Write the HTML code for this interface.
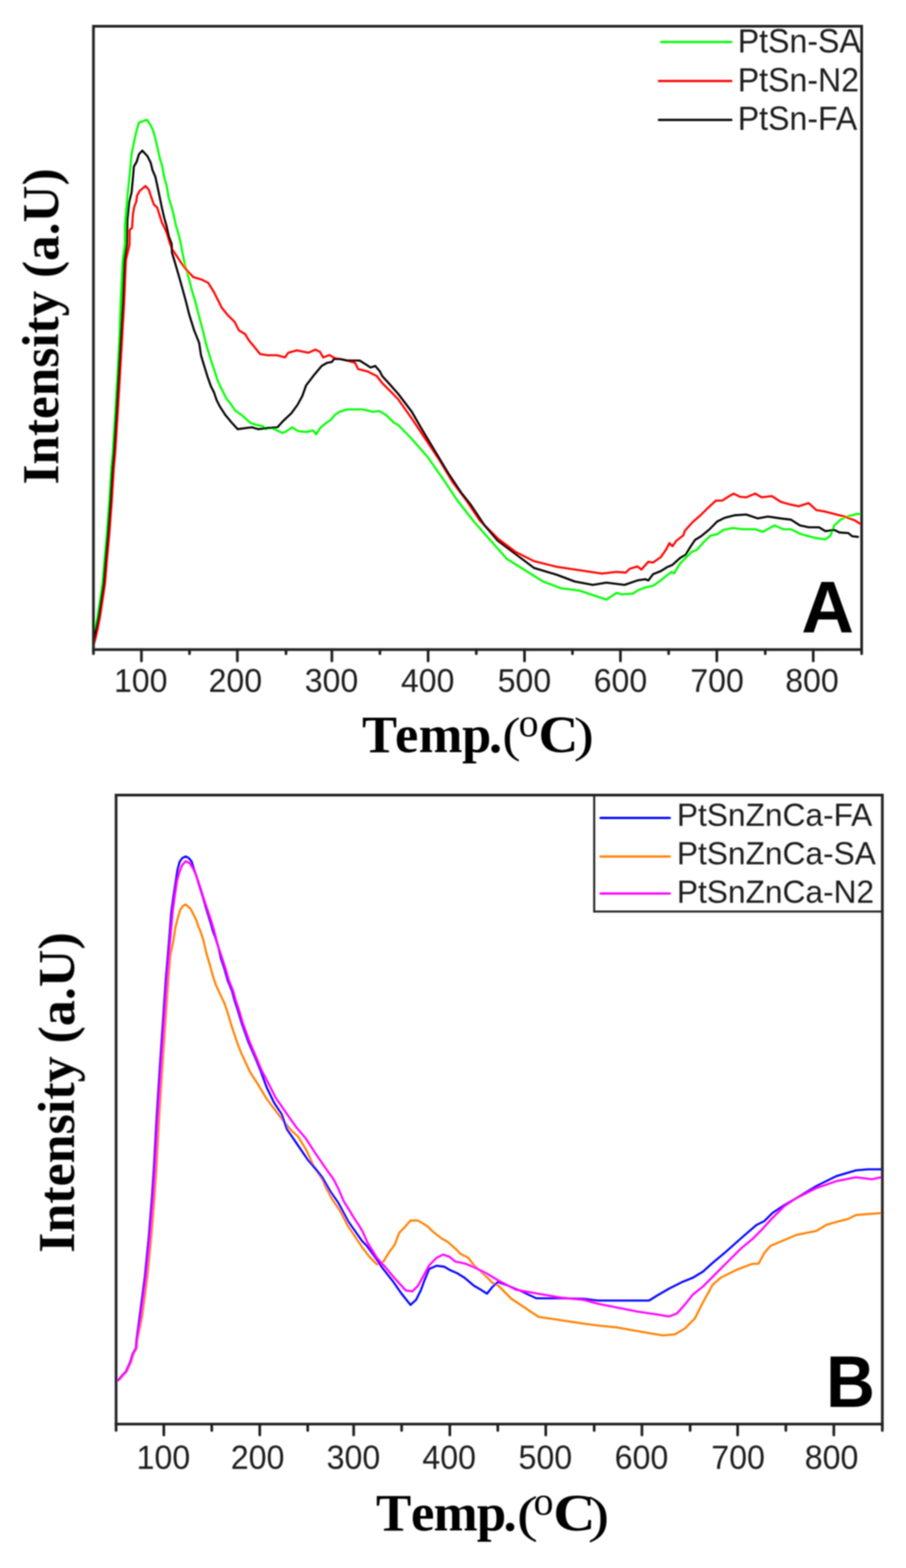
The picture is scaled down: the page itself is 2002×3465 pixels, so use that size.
<!DOCTYPE html>
<html><head><meta charset="utf-8"><title>TPR profiles</title>
<style>
html,body{margin:0;padding:0;background:#fff;}
body{width:2002px;height:3465px;overflow:hidden;}
svg{display:block;}
.tk{font-family:"Liberation Sans",Arial,sans-serif;font-size:70px;fill:#1c1c1c;text-anchor:middle;}
.lg{font-family:"Liberation Sans",Arial,sans-serif;font-size:69px;fill:#1c1c1c;}
.pl{font-family:"Liberation Sans",Arial,sans-serif;font-size:161px;font-weight:bold;fill:#000;}
.xl{font-family:"Liberation Serif","Times New Roman",serif;font-size:116px;font-weight:bold;fill:#000;}
.deg{font-weight:normal;font-size:88px;}
.yl{font-family:"Liberation Serif","Times New Roman",serif;font-size:114px;font-weight:bold;fill:#000;}
</style></head>
<body>
<svg width="2002" height="3465" viewBox="0 0 2002 3465">
<defs><filter id="soft" x="0" y="0" width="2002" height="3465" filterUnits="userSpaceOnUse"><feGaussianBlur stdDeviation="1.6"/></filter></defs>
<rect width="2002" height="3465" fill="#fff"/>
<g filter="url(#soft)">
<polyline points="205.5,1426.0 206.0,1409.0 210.0,1391.0 215.5,1363.0 221.0,1327.0 226.5,1290.0 231.0,1236.0 236.0,1181.0 241.5,1108.0 246.0,1035.0 249.2,1000.0 254.5,915.0 259.5,830.0 264.0,745.0 266.5,670.0 271.3,575.0 276.0,540.0 276.2,497.6 281.4,435.8 286.5,386.0 290.7,341.0 295.8,316.0 301.0,291.5 307.0,271.0 315.0,268.0 324.7,264.7 331.9,275.0 338.0,287.4 343.2,306.0 348.4,328.6 353.5,351.3 358.7,367.8 362.8,392.5 368.0,409.0 373.0,437.8 378.2,454.3 383.4,472.8 388.5,497.6 393.7,514.0 398.8,534.7 403.0,557.5 408.5,585.0 416.7,612.4 423.6,640.0 431.8,667.4 438.7,694.8 448.2,730.0 452.4,747.9 456.5,764.3 462.0,782.2 466.1,795.9 471.6,812.4 477.1,828.9 481.2,841.3 486.7,853.6 493.6,867.4 500.4,881.1 511.4,894.8 519.7,907.2 533.4,916.8 544.4,926.4 554.0,934.7 566.4,938.8 580.1,941.5 587.0,948.4 598.0,944.3 611.7,951.2 624.0,956.6 630.0,954.6 645.5,944.3 659.2,952.9 678.1,954.6 691.8,951.2 698.7,959.8 707.3,946.0 719.3,935.7 729.6,928.9 739.9,916.9 750.2,910.0 767.4,904.8 801.7,904.8 824.0,910.0 837.8,908.3 853.2,916.9 870.4,934.0 880.0,939.2 910.0,970.0 945.0,1010.0 980.0,1060.0 1010.0,1105.0 1045.0,1150.0 1080.0,1190.0 1120.0,1235.0 1160.0,1260.0 1200.0,1285.0 1240.0,1300.0 1280.0,1305.0 1310.0,1315.0 1340.0,1325.0 1362.3,1310.1 1374.3,1313.5 1398.4,1311.8 1408.7,1304.9 1425.9,1298.1 1443.0,1294.6 1460.2,1282.6 1470.5,1274.0 1484.2,1263.7 1489.4,1267.2 1503.1,1244.8 1515.1,1232.8 1528.9,1219.1 1539.2,1215.6 1552.9,1200.2 1563.2,1189.9 1570.4,1183.6 1584.5,1180.8 1598.6,1171.0 1618.3,1166.7 1640.8,1169.5 1669.0,1169.5 1685.9,1175.2 1711.2,1161.0 1731.0,1169.5 1747.8,1169.5 1767.5,1179.4 1781.6,1183.6 1804.0,1189.3 1823.9,1192.0 1835.0,1183.6 1843.6,1161.0 1857.6,1148.4 1871.7,1141.4 1894.0,1135.7 1902.0,1135.7" fill="none" stroke="#00ff00" stroke-width="4.6" stroke-linejoin="round" stroke-linecap="round"/>
<polyline points="208.0,1422.0 211.5,1409.0 215.5,1391.0 221.0,1363.0 226.5,1327.0 232.0,1290.0 236.5,1236.0 241.5,1181.0 247.0,1108.0 251.5,1035.0 254.7,1000.0 260.0,915.0 265.0,830.0 270.0,745.0 274.3,670.0 278.2,575.0 286.3,540.0 286.5,508.0 291.7,503.8 293.8,472.8 296.8,456.4 301.0,446.0 303.0,431.6 309.2,421.3 321.6,411.0 328.8,419.3 335.0,437.8 340.1,452.2 347.3,458.4 352.5,475.0 357.6,491.4 363.8,503.8 369.0,516.0 375.0,536.7 380.0,550.0 400.0,580.0 415.0,600.0 427.5,612.5 445.0,617.5 460.0,625.0 472.5,645.0 490.0,680.0 501.9,694.8 518.4,711.3 527.9,730.0 541.6,738.2 549.9,752.0 563.6,768.5 574.6,782.2 591.1,785.0 611.7,785.0 630.0,789.8 636.9,779.5 655.8,774.3 681.5,779.5 697.0,772.6 707.3,777.8 714.1,789.8 727.9,784.6 739.9,791.5 760.5,795.0 784.5,801.8 791.4,815.5 812.0,820.7 832.6,831.0 844.6,846.5 861.8,863.6 880.0,882.5 910.0,925.0 940.0,970.0 970.0,1015.0 1000.0,1065.0 1030.0,1105.0 1060.0,1150.0 1100.0,1190.0 1140.0,1220.0 1180.0,1240.0 1230.0,1252.5 1280.0,1260.0 1330.0,1267.5 1362.3,1263.7 1382.9,1265.4 1391.5,1256.9 1408.7,1251.7 1417.3,1258.6 1432.7,1241.4 1443.0,1243.1 1460.2,1231.1 1472.2,1213.9 1479.1,1200.2 1485.9,1207.1 1494.5,1195.0 1510.0,1183.0 1513.4,1172.7 1530.6,1153.8 1548.0,1138.6 1565.0,1121.7 1582.0,1106.2 1596.0,1106.2 1607.0,1099.0 1621.0,1090.7 1635.0,1097.7 1649.0,1099.0 1669.0,1090.7 1683.0,1099.0 1705.6,1096.3 1725.3,1109.0 1745.0,1114.6 1764.7,1118.8 1787.0,1111.8 1804.0,1127.3 1821.0,1130.0 1843.6,1135.7 1866.0,1141.4 1888.6,1149.8 1902.0,1158.3" fill="none" stroke="#ff0000" stroke-width="4.6" stroke-linejoin="round" stroke-linecap="round"/>
<polyline points="206.0,1430.0 208.5,1409.0 212.5,1391.0 218.0,1363.0 223.5,1327.0 229.0,1290.0 233.5,1236.0 238.5,1181.0 244.0,1108.0 248.5,1035.0 251.7,1000.0 257.0,915.0 262.0,830.0 267.0,745.0 271.3,670.0 275.2,575.0 280.6,540.0 281.4,487.0 285.5,446.0 290.7,425.5 293.8,392.5 295.8,368.0 302.0,357.5 307.0,341.0 314.4,332.7 325.7,345.0 333.0,359.5 337.0,376.0 343.2,390.4 347.3,409.0 352.5,433.7 357.6,458.4 362.8,481.0 368.0,499.6 373.0,522.3 379.3,538.8 380.0,558.0 388.0,585.0 396.0,612.4 403.7,640.0 411.2,667.4 418.0,694.8 429.0,730.0 440.0,757.5 444.1,785.0 452.4,812.4 459.2,834.4 466.1,853.6 473.0,867.4 478.5,883.8 485.3,897.6 497.7,916.8 511.4,933.3 525.2,948.4 544.4,945.7 556.8,944.3 570.5,948.4 591.1,945.7 613.1,944.3 625.4,930.5 643.7,913.4 657.5,894.5 667.8,875.6 676.4,851.6 693.5,829.3 710.7,808.7 722.7,801.8 733.0,800.1 738.2,793.2 750.2,793.2 767.4,796.7 794.8,796.7 806.9,804.4 818.9,812.1 829.2,808.7 839.5,820.7 844.6,831.0 861.8,849.9 880.0,870.5 910.0,910.0 930.0,945.0 960.0,995.0 990.0,1045.0 1020.0,1090.0 1040.0,1115.0 1070.0,1160.0 1100.0,1195.0 1140.0,1225.0 1180.0,1255.0 1230.0,1270.0 1270.0,1285.0 1310.0,1292.5 1340.0,1287.5 1380.0,1292.5 1408.7,1282.6 1425.9,1280.0 1432.7,1282.6 1443.0,1268.9 1460.2,1262.0 1473.9,1253.4 1485.9,1248.3 1503.1,1232.8 1515.1,1225.9 1525.4,1208.8 1535.7,1193.3 1549.5,1184.7 1568.0,1169.5 1584.5,1152.6 1601.4,1144.2 1624.0,1138.6 1649.0,1137.0 1674.6,1145.6 1697.0,1141.4 1725.3,1145.6 1747.8,1148.4 1767.5,1161.0 1787.2,1165.3 1809.8,1165.3 1823.9,1173.8 1843.6,1171.0 1854.8,1176.6 1874.5,1178.0 1883.0,1185.0 1896.0,1186.4" fill="none" stroke="#000000" stroke-width="4.6" stroke-linejoin="round" stroke-linecap="round"/>
<rect x="206.5" y="58" width="1697.5" height="1377.5" fill="none" stroke="#222" stroke-width="6"/>
<line x1="206.5" y1="1435.5" x2="206.5" y2="1444.5" stroke="#222" stroke-width="6" stroke-linecap="round"/>
<line x1="312.5" y1="1435.5" x2="312.5" y2="1460.5" stroke="#222" stroke-width="6" stroke-linecap="round"/>
<line x1="418.7" y1="1435.5" x2="418.7" y2="1444.5" stroke="#222" stroke-width="6" stroke-linecap="round"/>
<line x1="524.5" y1="1435.5" x2="524.5" y2="1460.5" stroke="#222" stroke-width="6" stroke-linecap="round"/>
<line x1="632.0" y1="1435.5" x2="632.0" y2="1444.5" stroke="#222" stroke-width="6" stroke-linecap="round"/>
<line x1="733.4" y1="1435.5" x2="733.4" y2="1460.5" stroke="#222" stroke-width="6" stroke-linecap="round"/>
<line x1="839.5" y1="1435.5" x2="839.5" y2="1444.5" stroke="#222" stroke-width="6" stroke-linecap="round"/>
<line x1="946.0" y1="1435.5" x2="946.0" y2="1460.5" stroke="#222" stroke-width="6" stroke-linecap="round"/>
<line x1="1052.5" y1="1435.5" x2="1052.5" y2="1444.5" stroke="#222" stroke-width="6" stroke-linecap="round"/>
<line x1="1159.0" y1="1435.5" x2="1159.0" y2="1460.5" stroke="#222" stroke-width="6" stroke-linecap="round"/>
<line x1="1265.0" y1="1435.5" x2="1265.0" y2="1444.5" stroke="#222" stroke-width="6" stroke-linecap="round"/>
<line x1="1371.0" y1="1435.5" x2="1371.0" y2="1460.5" stroke="#222" stroke-width="6" stroke-linecap="round"/>
<line x1="1477.5" y1="1435.5" x2="1477.5" y2="1444.5" stroke="#222" stroke-width="6" stroke-linecap="round"/>
<line x1="1584.0" y1="1435.5" x2="1584.0" y2="1460.5" stroke="#222" stroke-width="6" stroke-linecap="round"/>
<line x1="1691.0" y1="1435.5" x2="1691.0" y2="1444.5" stroke="#222" stroke-width="6" stroke-linecap="round"/>
<line x1="1797.0" y1="1435.5" x2="1797.0" y2="1460.5" stroke="#222" stroke-width="6" stroke-linecap="round"/>
<line x1="1904.0" y1="1435.5" x2="1904.0" y2="1444.5" stroke="#222" stroke-width="6" stroke-linecap="round"/>
<text transform="translate(311.0,1529) scale(0.97,1)" class="tk" style="font-size:73px">100</text>
<text transform="translate(520.0,1529) scale(0.97,1)" class="tk" style="font-size:73px">200</text>
<text transform="translate(732.5,1529) scale(0.97,1)" class="tk" style="font-size:73px">300</text>
<text transform="translate(945.0,1529) scale(0.97,1)" class="tk" style="font-size:73px">400</text>
<text transform="translate(1158.8,1529) scale(0.97,1)" class="tk" style="font-size:73px">500</text>
<text transform="translate(1371.0,1529) scale(0.97,1)" class="tk" style="font-size:73px">600</text>
<text transform="translate(1584.5,1529) scale(0.97,1)" class="tk" style="font-size:73px">700</text>
<text transform="translate(1794.3,1529) scale(0.97,1)" class="tk" style="font-size:73px">800</text>
<line x1="1461" y1="92.7" x2="1616" y2="92.7" stroke="#00ff00" stroke-width="5" stroke-linecap="round"/>
<text transform="translate(1630.3,115.8) scale(0.945,1)" class="lg" style="font-size:75px">PtSn-SA</text>
<line x1="1456" y1="178.9" x2="1616" y2="178.9" stroke="#ff0000" stroke-width="5" stroke-linecap="round"/>
<text transform="translate(1630.3,201.8) scale(0.945,1)" class="lg" style="font-size:75px">PtSn-N2</text>
<line x1="1456" y1="265" x2="1616" y2="265" stroke="#000000" stroke-width="5" stroke-linecap="round"/>
<text transform="translate(1630.3,286.8) scale(0.945,1)" class="lg" style="font-size:75px">PtSn-FA</text>
<text transform="translate(1770.8,1397)" class="pl">A</text>
<text x="800" y="1662" class="xl">T<tspan dx="6">e</tspan><tspan dx="1">m</tspan><tspan dx="-1">p</tspan><tspan dx="-5">.</tspan></text>
<text transform="translate(1109.9,1660.3) scale(1.04,0.937)" class="xl" style="font-weight:normal">(</text>
<text transform="translate(1146.1,1626.7)" class="xl deg">o</text>
<text transform="translate(1189.7,1662.2) scale(1.054,1.01)" class="xl">C</text>
<text transform="translate(1267.7,1660.3) scale(1.16,0.937)" class="xl" style="font-weight:normal">)</text>
<text transform="translate(128.5,1070.7) rotate(-90)" class="yl" style="font-size:113.3px">Intensity (a.U)</text>
<polyline points="258.5,3051.0 263.8,3049.0 272.1,3039.2 279.7,3031.6 284.2,3021.8 290.2,3008.3 294.7,2992.4 302.3,2978.9 303.4,2961.7 314.1,2909.0 325.5,2822.0 334.2,2734.7 341.2,2647.0 345.7,2580.0 351.5,2472.0 358.0,2369.0 365.0,2266.0 372.0,2163.0 376.5,2110.0 382.9,2080.0 387.3,2051.3 392.7,2029.3 398.2,2010.7 404.0,2002.0 410.3,1998.6 421.3,2008.5 427.9,2021.6 433.4,2032.6 437.8,2045.8 443.3,2059.0 448.8,2075.5 456.5,2108.0 464.7,2135.5 470.2,2156.2 477.1,2176.8 486.7,2197.4 496.3,2218.0 503.2,2238.6 511.4,2266.0 518.3,2286.6 525.2,2307.3 533.4,2327.9 543.0,2348.5 552.6,2369.0 559.5,2380.0 568.0,2393.0 587.8,2426.0 601.0,2444.0 622.4,2472.0 642.2,2496.8 658.7,2511.6 676.8,2541.3 693.3,2577.6 713.0,2607.2 720.0,2624.0 735.4,2652.3 751.9,2676.4 768.3,2708.3 784.8,2733.1 801.3,2757.8 816.5,2777.5 833.0,2794.0 847.4,2787.8 859.8,2767.1 872.1,2750.7 882.4,2723.9 892.7,2713.6 907.1,2697.1 923.6,2697.1 944.2,2709.5 956.6,2721.8 975.1,2736.2 989.6,2744.5 1006.0,2758.9 1018.4,2771.3 1034.9,2779.5 1047.3,2796.0 1067.9,2814.5 1088.5,2835.2 1100.0,2840.0 1130.0,2870.0 1160.0,2890.0 1190.0,2910.0 1240.0,2917.5 1290.0,2925.0 1320.0,2929.0 1364.0,2933.4 1425.5,2944.4 1465.0,2951.0 1491.4,2948.8 1513.4,2935.6 1535.4,2913.6 1553.0,2878.5 1575.0,2838.9 1592.5,2823.5 1627.7,2806.0 1662.9,2792.7 1676.0,2792.7 1689.2,2768.6 1702.4,2753.2 1728.8,2742.2 1759.6,2729.0 1803.5,2720.2 1825.5,2707.0 1847.5,2700.4 1873.8,2693.8 1891.4,2685.0 1917.8,2682.9 1947.0,2680.7" fill="none" stroke="#ff8000" stroke-width="4.6" stroke-linejoin="round" stroke-linecap="round"/>
<polyline points="257.5,3052.0 261.8,3049.0 270.1,3039.2 277.7,3031.6 282.2,3021.8 288.2,3008.3 292.7,2992.4 300.3,2978.9 301.4,2961.7 308.6,2909.0 320.0,2822.0 328.7,2734.7 335.7,2647.0 340.2,2580.0 346.0,2472.0 352.5,2369.0 359.5,2266.0 366.5,2163.0 371.0,2110.0 374.9,2062.0 378.5,2016.0 383.4,1980.0 388.4,1947.0 392.2,1922.7 397.1,1904.0 403.0,1896.0 410.3,1892.5 417.0,1896.0 423.5,1904.0 429.0,1921.6 433.4,1933.7 437.8,1949.0 443.3,1966.7 448.8,1984.3 454.3,2004.0 459.8,2021.6 465.3,2039.2 470.5,2058.0 476.3,2073.3 483.0,2095.0 488.1,2117.7 496.3,2142.4 503.2,2167.1 512.8,2190.5 518.3,2211.1 525.2,2231.7 533.4,2259.2 541.6,2282.5 548.5,2301.8 556.8,2321.0 566.4,2343.0 574.6,2363.3 589.4,2402.9 606.0,2437.5 622.4,2462.2 634.0,2495.2 658.7,2531.4 680.1,2562.7 691.6,2576.0 711.4,2600.6 729.5,2632.0 747.7,2658.3 770.0,2700.0 800.0,2742.4 810.3,2752.7 826.8,2775.4 845.3,2802.2 868.0,2831.0 886.5,2857.8 907.1,2883.6 919.5,2872.3 929.8,2851.6 938.0,2829.0 948.4,2804.2 964.8,2797.0 981.3,2799.1 993.7,2806.3 1010.2,2813.5 1026.7,2823.8 1047.3,2841.3 1061.7,2849.6 1076.1,2858.8 1088.5,2843.4 1100.0,2833.1 1120.0,2840.0 1150.0,2852.5 1185.0,2869.0 1240.0,2869.0 1290.0,2870.0 1320.0,2874.0 1434.3,2874.0 1451.9,2863.0 1478.2,2847.7 1509.0,2832.3 1531.0,2823.5 1553.0,2810.3 1575.0,2790.5 1601.3,2768.6 1640.9,2733.4 1671.6,2707.0 1689.2,2698.2 1706.8,2680.7 1733.2,2663.0 1759.6,2647.7 1803.5,2621.3 1847.5,2599.3 1891.4,2586.2 1917.8,2584.0 1947.0,2584.0" fill="none" stroke="#0000ff" stroke-width="4.6" stroke-linejoin="round" stroke-linecap="round"/>
<polyline points="258.5,3051.0 262.8,3049.0 271.1,3039.2 278.7,3031.6 283.2,3021.8 289.2,3008.3 293.7,2992.4 301.3,2978.9 302.4,2961.7 311.1,2909.0 322.5,2822.0 331.2,2734.7 338.2,2647.0 342.7,2580.0 348.5,2472.0 355.0,2369.0 362.0,2266.0 369.0,2163.0 373.5,2110.0 377.4,2062.0 381.8,2012.9 386.2,1980.0 391.1,1947.0 397.1,1925.0 402.6,1911.8 410.3,1903.0 419.1,1907.4 426.8,1919.5 432.3,1931.5 437.8,1947.0 443.3,1963.4 449.0,1982.0 455.0,2000.0 461.0,2018.0 467.0,2036.0 473.0,2056.0 481.0,2087.5 491.0,2117.7 499.0,2142.4 506.0,2167.1 515.5,2190.5 521.0,2211.1 528.0,2231.7 536.0,2259.2 544.5,2282.5 551.5,2301.8 559.5,2321.0 569.0,2343.0 577.9,2365.0 594.4,2396.3 609.2,2426.0 620.8,2442.4 638.9,2468.8 655.4,2491.9 675.2,2515.0 696.6,2548.0 718.0,2579.2 737.8,2607.2 747.7,2627.0 760.1,2655.6 771.6,2673.7 781.5,2690.2 791.4,2705.0 801.3,2721.5 812.4,2746.5 833.0,2779.5 851.5,2800.1 872.1,2824.8 896.8,2851.6 911.3,2853.7 923.6,2841.3 933.9,2822.8 948.4,2796.0 964.8,2779.5 979.3,2772.3 993.7,2777.5 1006.0,2787.8 1026.7,2791.9 1047.3,2800.1 1076.1,2814.5 1100.0,2829.0 1140.0,2850.0 1190.0,2859.0 1240.0,2867.5 1290.0,2872.5 1320.0,2880.7 1364.0,2889.5 1408.0,2898.2 1451.9,2904.8 1478.2,2909.2 1495.8,2902.6 1513.4,2882.9 1531.0,2860.9 1553.0,2843.3 1579.3,2817.0 1605.7,2790.5 1636.5,2759.8 1662.9,2737.8 1684.8,2715.8 1706.8,2691.6 1733.2,2665.3 1759.6,2647.7 1803.5,2625.7 1847.5,2610.3 1891.4,2601.5 1926.6,2606.0 1947.0,2601.5" fill="none" stroke="#ff00ff" stroke-width="4.6" stroke-linejoin="round" stroke-linecap="round"/>
<rect x="256.5" y="1757" width="1693.2" height="1390" fill="none" stroke="#222" stroke-width="6"/>
<line x1="256.5" y1="3147" x2="256.5" y2="3161" stroke="#222" stroke-width="6" stroke-linecap="round"/>
<line x1="362.0" y1="3147" x2="362.0" y2="3171" stroke="#222" stroke-width="6" stroke-linecap="round"/>
<line x1="468.0" y1="3147" x2="468.0" y2="3161" stroke="#222" stroke-width="6" stroke-linecap="round"/>
<line x1="574.0" y1="3147" x2="574.0" y2="3171" stroke="#222" stroke-width="6" stroke-linecap="round"/>
<line x1="680.0" y1="3147" x2="680.0" y2="3161" stroke="#222" stroke-width="6" stroke-linecap="round"/>
<line x1="781.5" y1="3147" x2="781.5" y2="3171" stroke="#222" stroke-width="6" stroke-linecap="round"/>
<line x1="887.5" y1="3147" x2="887.5" y2="3161" stroke="#222" stroke-width="6" stroke-linecap="round"/>
<line x1="994.0" y1="3147" x2="994.0" y2="3171" stroke="#222" stroke-width="6" stroke-linecap="round"/>
<line x1="1100.0" y1="3147" x2="1100.0" y2="3161" stroke="#222" stroke-width="6" stroke-linecap="round"/>
<line x1="1206.0" y1="3147" x2="1206.0" y2="3171" stroke="#222" stroke-width="6" stroke-linecap="round"/>
<line x1="1313.0" y1="3147" x2="1313.0" y2="3161" stroke="#222" stroke-width="6" stroke-linecap="round"/>
<line x1="1418.5" y1="3147" x2="1418.5" y2="3171" stroke="#222" stroke-width="6" stroke-linecap="round"/>
<line x1="1525.0" y1="3147" x2="1525.0" y2="3161" stroke="#222" stroke-width="6" stroke-linecap="round"/>
<line x1="1630.0" y1="3147" x2="1630.0" y2="3171" stroke="#222" stroke-width="6" stroke-linecap="round"/>
<line x1="1736.5" y1="3147" x2="1736.5" y2="3161" stroke="#222" stroke-width="6" stroke-linecap="round"/>
<line x1="1842.5" y1="3147" x2="1842.5" y2="3171" stroke="#222" stroke-width="6" stroke-linecap="round"/>
<line x1="1949.7" y1="3147" x2="1949.7" y2="3161" stroke="#222" stroke-width="6" stroke-linecap="round"/>
<text transform="translate(361.0,3246) scale(0.96,1)" class="tk" style="font-size:74px">100</text>
<text transform="translate(569.3,3246) scale(0.96,1)" class="tk" style="font-size:74px">200</text>
<text transform="translate(781.0,3246) scale(0.96,1)" class="tk" style="font-size:74px">300</text>
<text transform="translate(992.5,3246) scale(0.96,1)" class="tk" style="font-size:74px">400</text>
<text transform="translate(1205.0,3246) scale(0.96,1)" class="tk" style="font-size:74px">500</text>
<text transform="translate(1417.5,3246) scale(0.96,1)" class="tk" style="font-size:74px">600</text>
<text transform="translate(1631.0,3246) scale(0.96,1)" class="tk" style="font-size:74px">700</text>
<text transform="translate(1837.5,3246) scale(0.96,1)" class="tk" style="font-size:74px">800</text>
<rect x="1313" y="1757" width="636.7" height="257.3" fill="none" stroke="#222" stroke-width="4.5"/>
<line x1="1327" y1="1807.6" x2="1480" y2="1807.6" stroke="#0000ff" stroke-width="5" stroke-linecap="round"/>
<text transform="translate(1495.7,1824.6) scale(0.986,1)" class="lg" style="font-size:71px">PtSnZnCa-FA</text>
<line x1="1327" y1="1892.8" x2="1480" y2="1892.8" stroke="#ff8000" stroke-width="5" stroke-linecap="round"/>
<text transform="translate(1495.7,1910.3) scale(0.986,1)" class="lg" style="font-size:71px">PtSnZnCa-SA</text>
<line x1="1327" y1="1974.5" x2="1480" y2="1974.5" stroke="#ff00ff" stroke-width="5" stroke-linecap="round"/>
<text transform="translate(1495.7,1995.4) scale(0.986,1)" class="lg" style="font-size:71px">PtSnZnCa-N2</text>
<text transform="translate(1825.3,3109) scale(0.93,1)" class="pl">B</text>
<text x="830.7" y="3381.5" class="xl" style="font-size:117px">T<tspan dx="10">e</tspan><tspan dx="-2">m</tspan><tspan dx="-2">p</tspan><tspan dx="-6">.</tspan></text>
<text transform="translate(1142,3383.9) scale(1.2,0.965)" class="xl" style="font-size:117px;font-weight:normal">(</text>
<text transform="translate(1179,3346.7)" class="xl deg">o</text>
<text transform="translate(1222.4,3382.2) scale(1.106,0.99)" class="xl" style="font-size:117px">C</text>
<text transform="translate(1298.9,3384.7) scale(1.22,0.965)" class="xl" style="font-size:117px;font-weight:normal">)</text>
<text transform="translate(163.5,2768.6) rotate(-90)" class="yl" style="font-size:114.9px">Intensity (a.U)</text>
</g>
</svg>
</body></html>
